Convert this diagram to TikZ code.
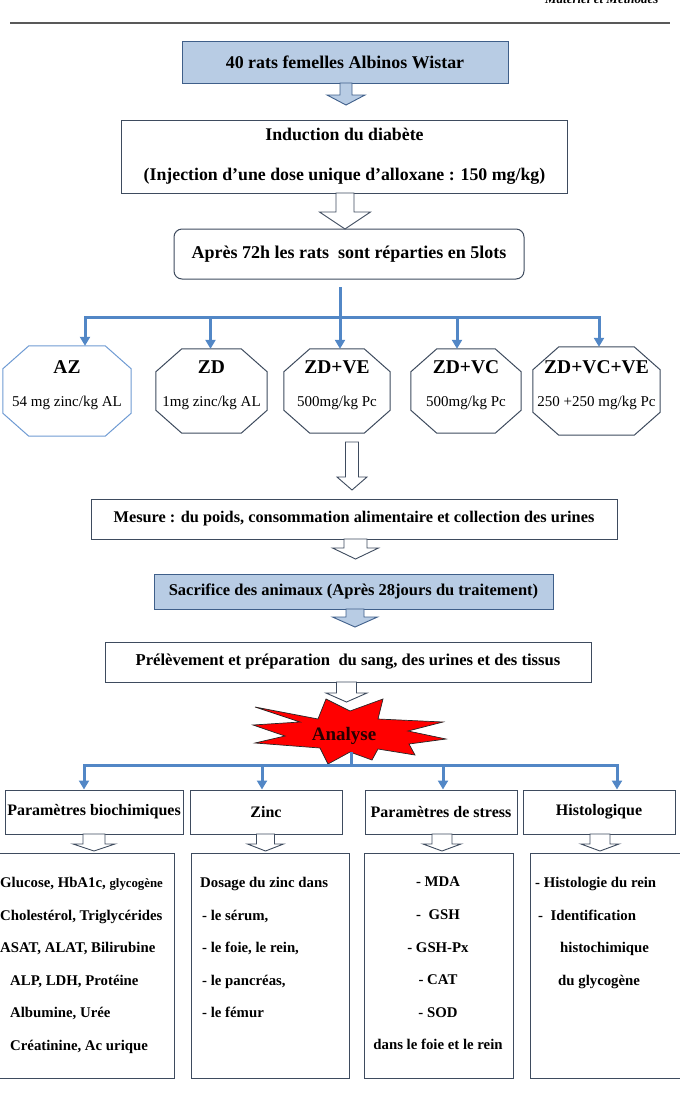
\documentclass[tikz,border=0pt]{standalone}
\usepackage{fontspec}
\setmainfont{Liberation Serif}
\usetikzlibrary{positioning,calc,arrows.meta}

\definecolor{trait}{HTML}{3E4B5E}
\definecolor{bleuclair}{HTML}{B8CCE4}
\definecolor{bleubord}{HTML}{3F5F8A}
\definecolor{bleulien}{HTML}{5287C6}
\definecolor{bleuaz}{HTML}{6F9BD3}

\begin{document}
\begin{tikzpicture}[x=1pt, y=-1pt,
  boite/.style={draw=trait, line width=1pt, fill=white, inner sep=0pt},
  boitebleue/.style={draw=bleubord, line width=1pt, fill=bleuclair, inner sep=0pt},
  categorie/.style={boite, minimum height=44pt, font=\fontsize{16}{16}\selectfont\bfseries},
  colonne/.style={boite, minimum height=225pt},
  liste/.style={inner sep=0pt, font=\fontsize{14.8}{32.6}\selectfont\bfseries},
  lot/.style={draw=none, inner sep=0pt},
  creuse/.style={draw=trait, line width=0.9pt, fill=white},
  pleine/.style={draw=bleubord, line width=0.9pt, fill=bleuclair},
  lien/.style={draw=bleulien, line width=3pt},
  lienfleche/.style={lien, -{Triangle[length=9pt,width=10pt]}}]

\useasboundingbox (0,0) rectangle (680,1096);
\clip (0,0) rectangle (680,1096);

% en-tete de page
\node (entete) [anchor=base east, font=\fontsize{13}{13}\selectfont\bfseries\itshape] at (662,3) {Matériel et Méthodes};
\draw [line width=1.5pt, black!65] (10,23) -- (670,23);

% etapes du protocole
\node (rats) [boitebleue, minimum width=326pt, minimum height=42pt, font=\fontsize{17.9}{17.9}\selectfont\bfseries] at (345,62) {40 rats femelles Albinos Wistar};
\node (induction) [boite, minimum width=446pt, minimum height=73pt, align=center, font=\fontsize{17.8}{40}\selectfont\bfseries] at (344.5,156.5) {Induction du diabète\\(Injection d’une dose unique d’alloxane : 150 mg/kg)};
\node (apres) [boite, rounded corners=8pt, minimum width=350pt, minimum height=50pt, font=\fontsize{18}{18}\selectfont\bfseries] at (349,254) {Après 72h les rats\ \ sont réparties en 5lots};

% les 5 lots
\foreach \c/\n/\x/\w/\h/\t/\d in {
  bleuaz/az/67/128/90/AZ/{54 mg zinc/kg AL},
  trait/zd/211.5/111/84/ZD/{1mg zinc/kg AL},
  trait/zdve/337/106/84/ZD+VE/{500mg/kg Pc},
  trait/zdvc/466/110/84/ZD+VC/{500mg/kg Pc},
  trait/zdvcve/596.5/127/88/ZD+VC+VE/{250 +250 mg/kg Pc}}
{
  \node (\n) [lot, minimum width=\w pt, minimum height=\h pt] at (\x,391) {};
  \draw [draw=\c, line width=1pt, fill=white] ($(\n.north west)+(26,0)$) -- ($(\n.north east)+(-26,0)$)
    -- ($(\n.north east)+(0,23)$) -- ($(\n.south east)+(0,-23)$) -- ($(\n.south east)+(-26,0)$)
    -- ($(\n.south west)+(26,0)$) -- ($(\n.south west)+(0,-23)$) -- ($(\n.north west)+(0,23)$) -- cycle;
  \node (\n-titre) [font=\fontsize{19.5}{19.5}\selectfont\bfseries] at (\x,367) {\t};
  \node (\n-dose) [font=\fontsize{15}{15}\selectfont] at (\x,403) {\d};
}

\coordinate (tronc) at (340,287);
\coordinate (repartition) at (340,317);
\draw [lien] (tronc) -- (repartition);
\draw [lien, line cap=rect] (85,317) -- (599,317);
\foreach \x/\n in {85/az, 210.5/zd, 340/zdve, 457/zdvc, 599/zdvcve}
  \draw [lienfleche] (\x,317) -- (\x,0 |- \n.north);

\node (mesure) [boite, minimum width=526pt, minimum height=40pt, font=\fontsize{16.3}{16.3}\selectfont\bfseries] at (354,519) {Mesure : du poids, consommation alimentaire et collection des urines};
\node (sacrifice) [boitebleue, minimum width=399pt, minimum height=35pt, font=\fontsize{16.5}{16.5}\selectfont\bfseries] at (353.5,591.5) {Sacrifice des animaux (Après 28jours du traitement)};
\node (prelevement) [boite, minimum width=486pt, minimum height=40pt, font=\fontsize{16.6}{16.6}\selectfont\bfseries] at (348,662) {Prélèvement et préparation\ \ du sang, des urines et des tissus};

% analyse
\filldraw [fill=red, draw=black!85, line width=0.7pt] (255,707) -- (318,719) -- (326,699) -- (350,711)
  -- (383,699) -- (378,719) -- (443,722) -- (408,731) -- (446,739) -- (409,744) -- (415,755)
  -- (378,749) -- (372,760) -- (350,752) -- (328,764) -- (320,748) -- (255,743) -- (285,736)
  -- (253,725) -- (300,722) -- cycle;
\node (analyse) [font=\fontsize{19}{19}\selectfont\bfseries, text=black!85!red] at (344,736) {Analyse};

\node (biochim) [categorie, minimum width=178pt] at (94,812) {Paramètres biochimiques};
\node (zinc) [categorie, minimum width=152pt] at (266,812) {Zinc};
\node (stress) [categorie, minimum width=152pt] at (441,812) {Paramètres de stress};
\node (histo) [categorie, minimum width=152pt] at (599,812) {Histologique};

\coordinate (etoile) at (351,752);
\coordinate (analyses) at (351,765);
\draw [lien] (etoile) -- (analyses);
\draw [lien, line cap=rect] (84,765) -- (617,765);
\foreach \x/\n in {84/biochim, 262/zinc, 443/stress, 617/histo}
  \draw [lienfleche] (\x,765) -- (\x,0 |- \n.north);

\node (biochim-bas) [colonne, minimum width=184pt] at (82,965.5) {};
\node (zinc-bas) [colonne, minimum width=158pt] at (270,965.5) {};
\node (stress-bas) [colonne, minimum width=149pt] at (438.5,965.5) {};
\node (histo-bas) [colonne, minimum width=150pt] at (605,965.5) {};

\node (biochim-liste) [liste, anchor=north west, align=left] at (0,877) {Glucose, HbA1c, {\fontsize{12.8}{12.8}\selectfont glycogène}\\Cholestérol, Triglycérides\\ASAT, ALAT, Bilirubine\\\hspace*{10pt}ALP, LDH, Protéine\\\hspace*{10pt}Albumine, Urée\\\hspace*{10pt}Créatinine, Ac urique};
\node (zinc-liste) [liste, anchor=north west, align=left] at (200,877) {Dosage du zinc dans\\\hspace*{2pt}- le sérum,\\\hspace*{2pt}- le foie, le rein,\\\hspace*{2pt}- le pancréas,\\\hspace*{2pt}- le fémur};
\node (stress-liste) [liste, anchor=north, align=center] at (438,877) {- MDA\\-\ \ GSH\\- GSH-Px\\- CAT\\- SOD\\dans le foie et le rein};
\node (histo-liste) [liste, anchor=north west, align=left] at (535,877) {- Histologie du rein\\\hspace*{3pt}-\ \ Identification\\\hspace*{25pt}histochimique\\\hspace*{23pt}du glycogène};

% fleches pleines
\foreach \x/\y/\a/\b/\c/\d in {346/83/6/19/12/22, 355/609/9/22.5/8/18}
  \draw [pleine] (\x-\a,\y) -- (\x+\a,\y) -- (\x+\a,\y+\c) -- (\x+\b,\y+\c) -- (\x,\y+\d) -- (\x-\b,\y+\c) -- (\x-\a,\y+\c) -- cycle;

% fleches creuses
\foreach \x/\y/\a/\b/\c/\d in {345/193/9/25.5/19/36, 352/442/6.5/15/35/48, 355.5/539/11.5/23/9/20,
  346.5/682/10/20.5/11/20, 94/834/11/21/10/17, 265.5/834/9/18/10/17, 442/834/10/19/10/17, 600/834/10/19/10/17}
  \draw [creuse] (\x-\a,\y) -- (\x+\a,\y) -- (\x+\a,\y+\c) -- (\x+\b,\y+\c) -- (\x,\y+\d) -- (\x-\b,\y+\c) -- (\x-\a,\y+\c) -- cycle;

\end{tikzpicture}
\end{document}
